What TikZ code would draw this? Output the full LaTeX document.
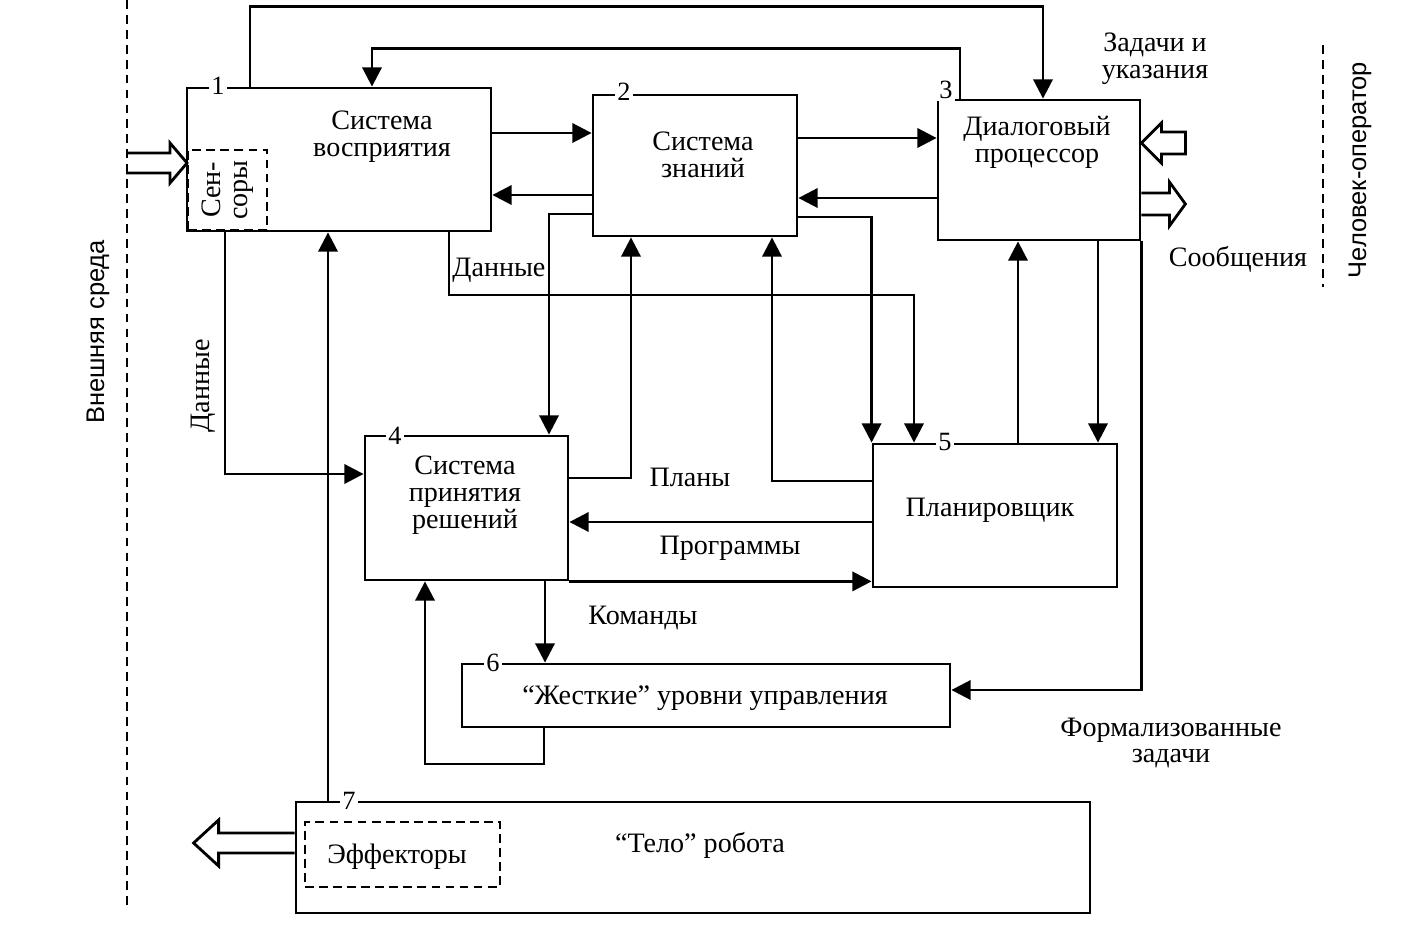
\documentclass[tikz,border=0pt]{standalone}
\usepackage{fontspec}
\setmainfont{Liberation Serif}
\newfontfamily\labsans{Liberation Sans}
\usetikzlibrary{arrows.meta,fit}
\begin{document}
\begin{tikzpicture}[x=0.02cm,y=-0.02cm,
  box/.style={draw, line width=1.6pt, inner sep=0pt},
  dbox/.style={draw, line width=1.1pt, dash pattern=on 5pt off 3pt, inner sep=0pt},
  con/.style={line width=1.6pt},
  arr/.style={con, -{Triangle[length=11pt,width=11pt]}},
  txt/.style={font=\fontsize{16}{15.3}\selectfont, align=center, inner sep=0pt},
  num/.style={font=\fontsize{15}{15}\selectfont, fill=white, inner sep=1.5pt},
  hol/.style={line width=1.6pt, line join=miter},
  border/.style={line width=1.2pt, dash pattern=on 5pt off 3.5pt},
  side/.style={font=\labsans\fontsize{14.5}{15}\selectfont, inner sep=0pt},
]
\useasboundingbox (0,0) rectangle (1414,935);

% boundaries
\coordinate (lt) at (127,0);
\coordinate (lb) at (127,905);
\coordinate (rt) at (1323,45);
\coordinate (rb) at (1323,287);
\draw[border] (lt) -- (lb);
\draw[border] (rt) -- (rb);
\node[side, rotate=90] (ext) at (98,332) {Внешняя среда};
\node[side, rotate=90] (oper) at (1360,170) {Человек-оператор};

% boxes
\node[box, fit={(187,88) (491,231)}] (b1) {};
\node[box, fit={(593,95) (797,236)}] (b2) {};
\node[box, fit={(938,100) (1140,240)}] (b3) {};
\node[box, fit={(365,436) (568,580)}] (b4) {};
\node[box, fit={(873,444) (1117,587)}] (b5) {};
\node[box, fit={(462,664) (950,727)}] (b6) {};
\node[box, fit={(296,802) (1090,913)}] (b7) {};
\node[dbox, fit={(188,150) (267,230)}] (sens) {};
\node[dbox, fit={(305,822) (500,887)}] (eff) {};

% box texts
\node[txt] (t1) at (382,137) {Система\\восприятия};
\node[txt] (t2) at (703,155) {Система\\знаний};
\node[txt] (t3) at (1037,142) {Диалоговый\\процессор};
\node[txt] (t4) at (465,495) {Система\\принятия\\решений};
\node[txt] (t5) at (990,510) {Планировщик};
\node[txt] (t6) at (705,698) {“Жесткие” уровни управления};
\node[txt] (t7) at (700,845) {“Тело” робота};
\node[txt] (teff) at (397,857) {Эффекторы};
\node[txt, rotate=90] (tsens) at (228,190) {Сен-\\соры};

% connectors
\draw[arr] (b1.north -| 250,0) -- ++(0,-80) -| (b3.north -| 1043,0);
\draw[arr] (b3.north -| 960,0) -- ++(0,-50) -| (b1.north -| 372,0);
\draw[arr] (b1.east |- 0,133) -- (b2.west |- 0,133);
\draw[arr] (b2.west |- 0,195) -- (b1.east |- 0,195);
\draw[arr] (b2.east |- 0,138) -- (b3.west |- 0,138);
\draw[arr] (b3.west |- 0,198) -- (b2.east |- 0,198);
\draw[arr] (b2.west |- 0,214) -| (b4.north -| 549,0);
\draw[arr] (b2.east |- 0,217) -| (b5.north west);
\draw[arr] (b1.south -| 449,0) -- (449,295) -| (b5.north -| 914,0);
\draw[arr] (b1.south -| 225,0) |- (b4.west |- 0,474);
\draw[arr] (b7.north -| 328,0) -- (b1.south -| 328,0);
\draw[arr] (b4.east |- 0,478) -| (b2.south -| 631,0);
\draw[arr] (b5.west |- 0,481) -| (b2.south -| 772,0);
\draw[arr] (b5.west |- 0,522) -- (b4.east |- 0,522);
\draw[arr] (b4.south east) -- (b5.west |- b4.south east);
\draw[arr] (b5.north -| 1018,0) -- (b3.south -| 1018,0);
\draw[arr] (b3.south -| 1098,0) -- (b5.north -| 1098,0);
\draw[arr] (b3.south east) |- (b6.east |- 0,690);
\draw[arr] (b4.south -| 545,0) -- (b6.north -| 545,0);
\draw[arr] (b6.south -| 544,0) |- (425,764) -- (b4.south -| 425,0);

% hollow arrows
\draw[hol] (sens.west |- 0,163) ++(-61,-10) -- ++(44,0) -- ++(0,-10) -- (sens.west |- 0,163) -- ++(-17,20) -- ++(0,-10) -- ++(-44,0);
\draw[hol] (b3.east |- 0,143) -- ++(20,-20) -- ++(0,9) -- ++(24,0) -- ++(0,22) -- ++(-24,0) -- ++(0,9) -- cycle;
\draw[hol] (b3.east |- 0,193) -- ++(28,0) -- ++(0,-11) -- ++(16,22) -- ++(-16,22) -- ++(0,-11) -- ++(-28,0);
\draw[hol] (b7.west |- 0,833) -- ++(-76,0) -- ++(0,-13) -- ++(-25,23) -- ++(25,23) -- ++(0,-13) -- ++(76,0);

% numbers
\node[num] (n1) at (218,86) {1};
\node[num] (n2) at (624,92) {2};
\node[num] (n3) at (946,90) {3};
\node[num] (n4) at (395,436) {4};
\node[num] (n5) at (945,442) {5};
\node[num] (n6) at (493,663) {6};
\node[num] (n7) at (349,801) {7};

% labels
\node[txt] (lz) at (1155,59) {Задачи и\\указания};
\node[txt] (ls) at (1238,259) {Сообщения};
\node[txt, anchor=west] (ld1) at (452,270) {Данные};
\node[txt, rotate=90] (ld2) at (203,386) {Данные};
\node[txt] (lp) at (690,477) {Планы};
\node[txt] (lpr) at (730,548) {Программы};
\node[txt] (lk) at (643,618) {Команды};
\node[txt] (lf) at (1171,743) {Формализованные\\задачи};
\end{tikzpicture}
\end{document}
